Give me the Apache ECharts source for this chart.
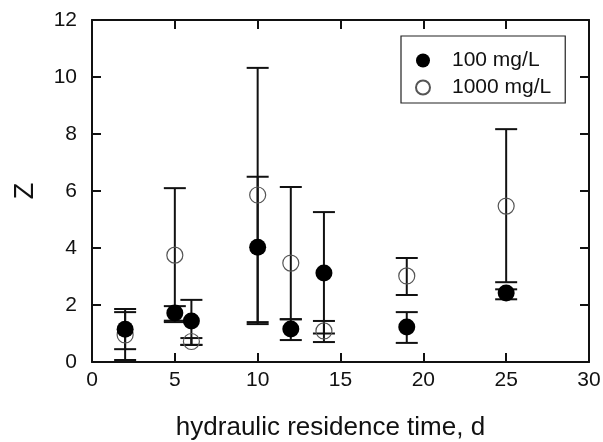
<!DOCTYPE html>
<html>
<head>
<meta charset="utf-8">
<script src="https://cdn.jsdelivr.net/npm/echarts@6/dist/echarts.min.js"></script>
<style>
  html, body { margin: 0; padding: 0; background: #fff; }
  #main { width: 603px; height: 442px; }
</style>
</head>
<body>
<div id="main"></div>
<script>
// hydraulic residence time (d)
const hrt = [2, 5, 6, 10, 12, 14, 19, 25];

// 100 mg/L: mean Z and error bar ends
const z100 = [1.15, 1.72, 1.44, 4.03, 1.16, 3.12, 1.23, 2.42];
const z100Low = [0.45, 1.40, 0.60, 1.40, 0.77, 1.00, 0.67, 2.20];
const z100High = [1.86, 1.96, 2.18, 6.50, 1.50, 5.26, 1.75, 2.55];

// 1000 mg/L
const z1000 = [0.95, 3.75, 0.72, 5.86, 3.47, 1.09, 3.02, 5.47];
const z1000Low = [0.07, 1.45, 0.60, 1.33, 1.50, 0.70, 2.35, 2.80];
const z1000High = [1.75, 6.10, 0.84, 10.32, 6.14, 1.44, 3.65, 8.17];

const xTicks = [0, 5, 10, 15, 20, 25, 30];
const yTicks = [0, 2, 4, 6, 8, 10, 12];

const font = "Liberation Sans, Arial, sans-serif";

// error bar: vertical line + caps, all through the axis scales
const errorBar = (params, api) => {
  const x = api.value(0);
  const lo = api.coord([x, api.value(1)]);
  const hi = api.coord([x, api.value(2)]);
  const half = 11;
  const style = { stroke: "#111", lineWidth: 2 };
  return {
    type: "group",
    children: [
      { type: "line", shape: { x1: lo[0], y1: lo[1], x2: hi[0], y2: hi[1] }, style },
      { type: "line", shape: { x1: lo[0] - half, y1: lo[1], x2: lo[0] + half, y2: lo[1] }, style },
      { type: "line", shape: { x1: hi[0] - half, y1: hi[1], x2: hi[0] + half, y2: hi[1] }, style }
    ]
  };
};

const chart = echarts.init(document.getElementById("main"));

const axisCommon = {
  axisLine: { show: true, onZero: false, lineStyle: { color: "#111", width: 2 } },
  axisTick: { show: true, inside: true, length: 9, lineStyle: { color: "#111", width: 2 } },
  splitLine: { show: false }
};

chart.setOption({
  backgroundColor: "#fff",
  animation: false,
  grid: { left: 92, right: 14, top: 20, bottom: 80, outerBoundsMode: "none", containLabel: false },
  legend: {
    orient: "vertical",
    left: 401,
    top: 36,
    padding: [14, 14, 5, 14],
    itemGap: 6,
    itemWidth: 16,
    itemHeight: 14,
    borderColor: "#222",
    borderWidth: 1.2,
    borderRadius: 0,
    textStyle: { fontFamily: font, fontSize: 21, color: "#111", padding: [0, 0, 0, 16] },
    data: [
      { name: "100 mg/L", icon: "circle" },
      { name: "1000 mg/L", icon: "circle" }
    ]
  },
  xAxis: [
    Object.assign({
      type: "value", min: 0, max: 30, interval: 5,
      name: "hydraulic residence time, d",
      nameLocation: "middle",
      nameGap: 53,
      nameTextStyle: { fontFamily: font, fontSize: 26, color: "#111", padding: [0, 20, 0, 0] },
      axisLabel: { fontFamily: font, fontSize: 21, color: "#111", margin: 8,
        formatter: v => xTicks.includes(v) ? String(v) : "" }
    }, axisCommon),
    Object.assign({
      type: "value", min: 0, max: 30, interval: 5, position: "top",
      axisLabel: { show: false }
    }, axisCommon)
  ],
  yAxis: [
    Object.assign({
      type: "value", min: 0, max: 12, interval: 2,
      name: "Z",
      nameLocation: "middle",
      nameGap: 53,
      nameRotate: 90,
      nameTextStyle: { fontFamily: font, fontSize: 27, color: "#111" },
      axisLabel: { fontFamily: font, fontSize: 21, color: "#111", margin: 15,
        formatter: v => yTicks.includes(v) ? String(v) : "" }
    }, axisCommon),
    Object.assign({
      type: "value", min: 0, max: 12, interval: 2, position: "right",
      axisLabel: { show: false }
    }, axisCommon)
  ],
  series: [
    {
      name: "err100",
      type: "custom",
      renderItem: errorBar,
      data: hrt.map((x, i) => [x, z100Low[i], z100High[i]]),
      z: 1
    },
    {
      name: "err1000",
      type: "custom",
      renderItem: errorBar,
      data: hrt.map((x, i) => [x, z1000Low[i], z1000High[i]]),
      z: 1
    },
    {
      name: "1000 mg/L",
      type: "scatter",
      symbol: "circle",
      symbolSize: 16,
      itemStyle: { color: "rgba(255,255,255,0)", borderColor: "#555", borderWidth: 1.2, opacity: 1 },
      data: hrt.map((x, i) => [x, z1000[i]]),
      z: 3
    },
    {
      name: "100 mg/L",
      type: "scatter",
      symbol: "circle",
      symbolSize: 17,
      itemStyle: { color: "#000", opacity: 1 },
      data: hrt.map((x, i) => [x, z100[i]]),
      z: 4
    }
  ]
});
</script>
</body>
</html>
